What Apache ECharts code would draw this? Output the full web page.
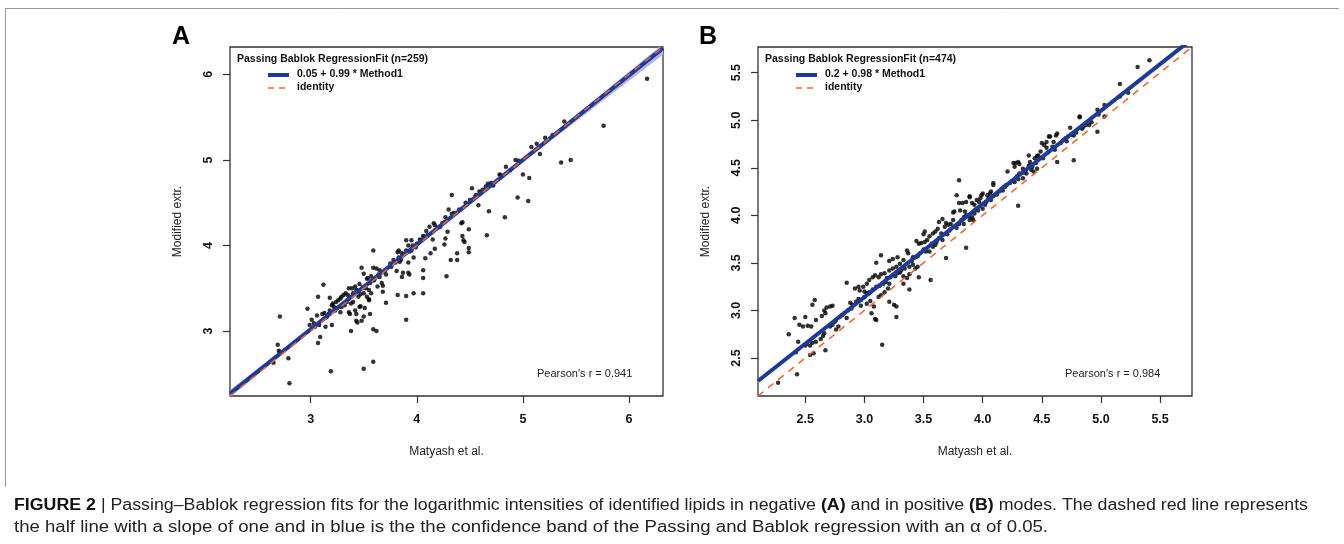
<!DOCTYPE html>
<html>
<head>
<meta charset="utf-8">
<title>Passing-Bablok regression</title>
<script src="https://cdn.jsdelivr.net/npm/echarts@6/dist/echarts.min.js"></script>
<style>
  html, body { margin: 0; padding: 0; background: #fff; }
  #chart { width: 1344px; height: 544px; }
</style>
</head>
<body>
<div id="chart"></div>
<script>
// panel A (negative mode)
var pointsA = [
  [6.17,5.95],[5.76,5.40],[5.39,5.45],[5.45,5.00],[5.36,4.97],[5.21,5.26],[5.28,5.29],
  [5.08,5.15],[5.13,5.19],[5.16,5.07],[5.00,4.83],[5.06,4.79],[4.95,4.56],[5.05,4.52],
  [4.83,4.33],[4.93,5.00],[4.96,4.99],[4.84,4.92],[4.78,4.83],[4.79,4.82],[4.72,4.70],
  [4.67,4.72],[4.65,4.69],[4.68,4.40],[4.66,4.12],[4.59,4.63],[4.60,4.61],[4.56,4.59],
  [4.52,4.67],[4.58,4.47],[4.50,4.53],[4.53,4.54],[4.49,4.19],[4.49,3.97],[4.49,3.92],
  [4.42,4.26],[4.43,4.27],[4.43,4.11],[4.44,4.06],[4.45,4.04],[4.38,3.91],[4.38,3.83],
  [4.32,3.83],[4.28,3.64],[4.33,4.59],[4.30,4.42],[4.33,4.37],[4.27,4.33],[4.26,4.27],
  [4.22,4.22],[4.27,4.08],[4.26,4.01],[4.29,4.16],[4.16,4.26],[4.17,4.24],[4.12,4.22],
  [4.09,4.17],[4.06,4.11],[4.07,4.10],[4.04,4.06],[4.15,4.07],[4.17,3.96],[4.13,3.91],
  [4.08,3.85],[4.06,3.71],[4.06,3.62],[4.06,3.44],[3.99,3.98],[3.96,4.00],[3.95,4.06],
  [3.95,3.94],[3.97,3.86],[3.90,4.06],[3.92,4.00],[3.90,3.94],[3.86,3.91],[3.85,3.83],
  [3.84,3.81],[3.92,3.80],[3.87,3.68],[3.86,3.63],[3.92,3.68],[3.93,3.66],[3.90,3.41],
  [3.97,3.44],[3.90,3.13],[3.82,3.42],[3.81,3.70],[3.83,3.86],[3.78,3.83],[3.83,3.94],
  [3.82,3.92],[3.75,3.79],[3.71,3.66],[3.71,3.33],[3.67,3.56],[3.68,3.53],[3.68,3.46],
  [3.65,3.63],[3.65,3.71],[3.62,3.73],[3.59,3.74],[3.59,3.94],[3.63,3.52],[3.59,3.59],
  [3.57,3.64],[3.54,3.62],[3.48,3.74],[3.50,3.67],[3.53,3.61],[3.46,3.55],[3.49,3.51],
  [3.45,3.47],[3.50,3.44],[3.53,3.40],[3.55,3.37],[3.51,3.27],[3.50,3.17],[3.56,3.20],
  [3.48,3.12],[3.43,3.12],[3.44,3.10],[3.59,3.02],[3.62,3.00],[3.38,3.00],[3.59,2.64],
  [3.50,2.56],[3.19,2.53],[2.80,2.39],[2.79,2.68],[2.70,2.77],[2.71,2.75],[2.69,2.84],
  [2.71,3.17],[2.65,2.63],[3.07,2.86],[3.09,2.93],[3.14,3.05],[3.20,3.07],[2.97,3.26],
  [3.07,3.40],[3.12,3.54],[3.18,3.39],[3.06,3.18],[3.01,3.13],[2.99,3.07],[3.03,3.09],
  [3.04,3.05],[3.08,3.07],[3.11,3.20],[3.13,3.21],[3.15,3.16],[3.18,3.24],[3.20,3.30],
  [3.21,3.32],[3.24,3.34],[3.26,3.36],[3.28,3.38],[3.29,3.40],[3.31,3.42],[3.33,3.44],
  [3.23,3.24],[3.28,3.22],[3.25,3.27],[3.36,3.50],[3.39,3.50],[3.42,3.52],[3.43,3.48],
  [3.36,3.38],[3.34,3.34],[3.38,3.32],[3.40,3.34],[3.36,3.22],[3.37,3.20],[3.42,3.24],
  [3.43,3.20],[3.46,3.28],[3.47,3.29],[3.29,3.28],[3.32,3.30],[3.55,3.48],[3.57,3.44],
  [3.55,3.36],[3.45,3.40],[3.47,3.43],[3.52,3.50],[3.56,3.56],[3.60,3.60],[3.64,3.66],
  [3.70,3.70],[3.76,3.75],[3.80,3.80],[3.88,3.90],[3.93,3.93],[4.00,4.02],[4.03,4.07],
  [4.10,4.12],[4.20,4.21],[4.24,4.26],[4.35,4.38],[4.40,4.42],[4.46,4.50],[4.55,4.57],
  [4.62,4.65],[4.70,4.73],[4.88,4.88],[3.17,3.20],[3.22,3.28],[3.35,3.42],[3.40,3.44]
];
var bandXA = [2.24, 3, 4, 5, 6.32];
var bandLoA = [2.225, 3.0, 3.995, 4.975, 6.23];
var bandHiA = [2.31, 3.04, 4.02, 5.02, 6.355];
var fitA = [0.05, 0.99]; // intercept, slope
var rangeA = [2.24, 6.32];
var ticksA = [3, 4, 5, 6];

// panel B (positive mode)
var pointsB = [
  [5.41,5.63],[5.31,5.56],[5.16,5.38],[5.16,5.25],[5.23,5.29],[5.03,5.16],[5.03,5.04],
  [4.97,5.11],[4.98,5.06],[4.97,4.88],[4.82,5.04],[4.82,5.03],[4.77,4.58],[4.92,4.98],
  [4.90,4.95],[4.85,4.93],[4.84,4.91],[4.74,4.92],[4.79,4.87],[4.77,4.84],[4.72,4.83],
  [4.70,4.81],[4.71,4.78],[4.68,4.79],[4.63,4.86],[4.62,4.84],[4.57,4.83],[4.56,4.83],
  [4.60,4.77],[4.59,4.72],[4.61,4.69],[4.52,4.74],[4.54,4.71],[4.54,4.77],[4.50,4.76],
  [4.63,4.56],[4.51,4.60],[4.49,4.67],[4.47,4.63],[4.46,4.62],[4.44,4.60],[4.39,4.63],
  [4.40,4.56],[4.39,4.52],[4.30,4.56],[4.28,4.55],[4.26,4.55],[4.31,4.54],[4.27,4.51],
  [4.34,4.49],[4.36,4.47],[4.42,4.51],[4.46,4.49],[4.41,4.48],[4.43,4.46],[4.37,4.44],
  [4.31,4.44],[4.29,4.41],[4.34,4.39],[4.30,4.38],[4.27,4.35],[4.21,4.46],[4.30,4.10],
  [4.23,4.34],[4.20,4.32],[4.19,4.30],[4.16,4.28],[4.17,4.26],[4.14,4.25],[4.09,4.32],
  [4.09,4.34],[4.07,4.25],[4.06,4.23],[4.04,4.21],[4.09,4.20],[4.07,4.16],[4.00,4.23],
  [3.99,4.21],[3.98,4.18],[3.97,4.14],[4.03,4.14],[4.02,4.11],[4.00,4.07],[3.95,4.16],
  [3.93,4.11],[3.91,4.13],[3.89,4.19],[3.89,4.20],[3.80,4.37],[3.78,4.21],[3.80,4.13],
  [3.83,4.13],[3.86,4.14],[3.76,4.04],[3.75,4.03],[3.81,4.05],[3.85,4.04],[3.96,4.05],
  [3.93,4.02],[3.91,3.98],[3.89,3.95],[3.92,3.95],[3.86,4.00],[3.84,3.98],[3.82,3.95],
  [3.80,3.91],[3.84,3.91],[3.75,3.95],[3.73,3.91],[3.71,3.90],[3.69,3.92],[3.63,3.93],
  [3.66,3.96],[3.68,3.88],[3.86,3.66],[3.69,3.55],[3.56,3.32],[3.62,3.86],[3.60,3.83],
  [3.58,3.81],[3.55,3.78],[3.51,3.83],[3.50,3.80],[3.65,3.81],[3.63,3.76],[3.61,3.72],
  [3.60,3.69],[3.58,3.67],[3.53,3.74],[3.51,3.72],[3.48,3.71],[3.46,3.70],[3.44,3.73],
  [3.50,3.64],[3.52,3.62],[3.47,3.60],[3.45,3.57],[3.43,3.56],[3.41,3.56],[3.36,3.63],
  [3.37,3.60],[3.46,3.35],[3.38,3.22],[3.33,3.28],[3.27,2.93],[3.15,2.64],[3.09,2.91],
  [3.10,2.90],[3.06,2.97],[3.14,3.58],[3.10,3.50],[3.21,3.52],[3.24,3.54],[3.28,3.56],
  [3.33,3.53],[3.30,3.49],[3.27,3.46],[3.24,3.44],[3.21,3.42],[3.34,3.44],[3.31,3.42],
  [3.28,3.39],[3.26,3.36],[3.22,3.35],[3.19,3.34],[3.17,3.39],[3.14,3.38],[3.12,3.35],
  [3.09,3.37],[3.07,3.35],[3.16,3.28],[3.13,3.26],[3.10,3.25],[3.07,3.22],[3.04,3.19],
  [3.02,3.18],[3.21,3.28],[3.20,3.23],[3.17,3.19],[3.14,3.16],[3.12,3.14],[3.04,3.32],
  [3.02,3.28],[2.99,3.25],[2.96,3.21],[2.95,3.25],[2.92,3.23],[3.00,3.14],[2.97,3.11],
  [2.93,3.09],[2.90,3.06],[2.97,3.05],[3.02,3.07],[2.85,3.29],[2.89,3.02],[2.86,3.00],
  [2.83,2.97],[2.81,2.95],[2.85,2.92],[2.79,2.93],[2.76,2.90],[2.75,2.88],[2.73,2.85],
  [2.71,2.83],[2.78,2.83],[2.76,2.80],[2.73,3.05],[2.71,3.04],[2.68,3.03],[2.66,3.00],
  [2.67,2.97],[2.64,2.94],[2.58,3.11],[2.56,3.06],[2.66,2.76],[2.65,2.73],[2.63,2.70],
  [2.59,2.67],[2.56,2.66],[2.54,2.63],[2.67,2.58],[2.57,2.55],[2.54,2.53],[2.44,2.67],
  [2.50,2.63],[2.51,2.65],[2.42,2.56],[2.43,2.33],[2.27,2.24],[2.36,2.75],[2.41,2.92],
  [2.50,2.93],[2.45,2.85],[2.48,2.83],[2.52,2.84],[2.55,2.83],[2.59,2.90],[3.05,3.10],
  [3.08,3.04],[3.21,3.09],[3.25,3.06],[3.27,3.04],[3.33,3.36],[3.36,3.34],[3.38,3.38],
  [3.38,3.46],[3.41,3.48],[3.43,3.44],[3.45,3.46],[3.55,3.62],[3.57,3.70],[3.66,3.74],
  [3.70,3.80],[3.72,3.84],[3.78,3.87],[3.88,3.99],[3.94,4.06],[4.05,4.18],[4.12,4.22],
  [4.18,4.30],[4.25,4.36],[4.35,4.45],[4.45,4.55],[4.55,4.66],[4.66,4.76],[4.75,4.85],
  [4.87,4.95],[3.00,3.20],[2.95,3.12],[2.88,3.08],[3.18,3.30],[3.30,3.40],[3.40,3.52]
];
var bandXB = [2.1, 3, 4, 5, 5.77];
var bandLoB = [2.235, 3.128, 4.112, 5.085, 5.83];
var bandHiB = [2.28, 3.152, 4.128, 5.115, 5.88];
var fitB = [0.2, 0.98];
var rangeB = [2.1, 5.77];
var ticksB = [2.5, 3.0, 3.5, 4.0, 4.5, 5.0, 5.5];

var blue = '#1b3a9c';
var orange = '#f3632c';
var band = '#aeb4f4';
var font = 'Liberation Sans, Arial, sans-serif';

function lineEnds(fit, range) {
  return range.map(function (x) { return [x, fit[0] + fit[1] * x]; });
}

function bandSeries(idx, bx, lo, hi) {
  return {
    type: 'custom',
    xAxisIndex: idx,
    yAxisIndex: idx,
    clip: true,
    z: 1,
    data: [0],
    renderItem: function (params, api) {
      var pts = [];
      for (var i = 0; i < bx.length; i++) pts.push(api.coord([bx[i], hi[i]]));
      for (var j = bx.length - 1; j >= 0; j--) pts.push(api.coord([bx[j], lo[j]]));
      var cs = params.coordSys;
      return {
        type: 'polygon',
        shape: { points: pts },
        style: { fill: band, stroke: null },
        clipPath: { type: 'rect', shape: { x: cs.x, y: cs.y, width: cs.width, height: cs.height } }
      };
    }
  };
}

function xAxisOf(idx, range, ticks, dec) {
  return {
    type: 'value', gridIndex: idx, min: range[0], max: range[1],
    name: 'Matyash et al.', nameLocation: 'middle', nameGap: 50,
    nameTextStyle: { fontFamily: font, fontSize: 12, color: '#222' },
    axisLine: { show: false },
    axisTick: { show: true, inside: false, length: 7, customValues: ticks,
      lineStyle: { color: '#333', width: 1.2 } },
    axisLabel: { customValues: ticks, margin: 17, fontFamily: font, fontWeight: 'bold',
      fontSize: 12.5, color: '#111',
      formatter: function (v) { return v.toFixed(dec); } },
    splitLine: { show: false }
  };
}

function yAxisOf(idx, range, ticks, dec) {
  return {
    type: 'value', gridIndex: idx, min: range[0], max: range[1],
    name: 'Modified extr.', nameLocation: 'middle', nameGap: 46,
    nameTextStyle: { fontFamily: font, fontSize: 12, color: '#222' },
    axisLine: { show: false },
    axisTick: { show: true, inside: false, length: 7, customValues: ticks,
      lineStyle: { color: '#333', width: 1.2 } },
    axisLabel: { customValues: ticks, rotate: 90, margin: 15, fontFamily: font,
      fontWeight: 'bold', fontSize: 12.5, color: '#111',
      formatter: function (v) { return v.toFixed(dec); } },
    splitLine: { show: false }
  };
}

function seriesFor(idx, pts, fit, range, bx, lo, hi) {
  return [
    bandSeries(idx, bx, lo, hi),
    {
      type: 'scatter', xAxisIndex: idx, yAxisIndex: idx, z: 2,
      symbol: 'circle', symbolSize: 4.5, itemStyle: { color: '#000' },
      data: pts
    },
    {
      type: 'line', xAxisIndex: idx, yAxisIndex: idx, z: 3,
      showSymbol: false, symbol: 'none',
      lineStyle: { color: blue, width: 4 },
      data: lineEnds(fit, range)
    },
    {
      type: 'line', xAxisIndex: idx, yAxisIndex: idx, z: 4,
      showSymbol: false, symbol: 'none',
      lineStyle: { color: orange, width: 1.5, type: [7, 6] },
      data: lineEnds([0, 1], range)
    }
  ];
}

function legendBits(x0, title, eq, pearson, pearsonX) {
  return [
    { type: 'text', left: x0, top: 54,
      style: { text: title, font: 'bold 10.5px ' + font, fill: '#111' } },
    { type: 'line', shape: { x1: x0 + 31, y1: 75, x2: x0 + 52, y2: 75 },
      style: { stroke: blue, lineWidth: 4 } },
    { type: 'text', left: x0 + 60, top: 69,
      style: { text: eq, font: 'bold 10.5px ' + font, fill: '#111' } },
    { type: 'line', shape: { x1: x0 + 31, y1: 88, x2: x0 + 52, y2: 88 },
      style: { stroke: orange, lineWidth: 1.5, lineDash: [6, 5] } },
    { type: 'text', left: x0 + 60, top: 82,
      style: { text: 'identity', font: 'bold 10.5px ' + font, fill: '#111' } },
    { type: 'text', left: pearsonX, top: 368,
      style: { text: pearson, font: '11px ' + font, fill: '#222' } }
  ];
}

// caption: measured so that each line spans the same width as in the figure
var capNorm = '16px Liberation Sans, Arial, sans-serif';
var capBold = 'bold 16px Liberation Sans, Arial, sans-serif';
var capParts = [
  ['FIGURE 2', 1], [' | Passing–Bablok regression fits for the logarithmic intensities of identified lipids in negative ', 0],
  ['(A)', 1], [' and in positive ', 0], ['(B)', 1], [' modes. The dashed red line represents', 0]
];
var capLine2 = 'the half line with a slope of one and in blue is the the confidence band of the Passing and Bablok regression with an α of 0.05.';
var cv = document.createElement('canvas').getContext('2d');
var capW = 0;
capParts.forEach(function (p) { cv.font = p[1] ? capBold : capNorm; capW += cv.measureText(p[0]).width; });
cv.font = capNorm;
var capW2 = cv.measureText(capLine2).width;
var capScale = 1294 / capW;
var capScale2 = 1034 / capW2;
var capText1 = capParts.map(function (p) { return p[1] ? '{b|' + p[0] + '}' : p[0]; }).join('');

var chart = echarts.init(document.getElementById('chart'));
var option = {
  backgroundColor: '#fff',
  animation: false,
  grid: [
    { left: 230, top: 47, width: 433, height: 349, show: true, borderColor: '#333',
      borderWidth: 1.3, backgroundColor: 'transparent' },
    { left: 758, top: 47, width: 434, height: 349, show: true, borderColor: '#333',
      borderWidth: 1.3, backgroundColor: 'transparent' }
  ],
  xAxis: [xAxisOf(0, rangeA, ticksA, 0), xAxisOf(1, rangeB, ticksB, 1)],
  yAxis: [yAxisOf(0, rangeA, ticksA, 0), yAxisOf(1, rangeB, ticksB, 1)],
  series: seriesFor(0, pointsA, fitA, rangeA, bandXA, bandLoA, bandHiA)
    .concat(seriesFor(1, pointsB, fitB, rangeB, bandXB, bandLoB, bandHiB)),
  graphic: [
    // figure frame
    { type: 'line', shape: { x1: 5, y1: 8.5, x2: 1339, y2: 8.5 }, style: { stroke: '#999', lineWidth: 1 } },
    { type: 'line', shape: { x1: 5.5, y1: 8, x2: 5.5, y2: 487 }, style: { stroke: '#999', lineWidth: 1 } },
    { type: 'text', left: 172, top: 25, style: { text: 'A', font: 'bold 25px ' + font, fill: '#000' } },
    { type: 'text', left: 699, top: 25, style: { text: 'B', font: 'bold 25px ' + font, fill: '#000' } }
  ].concat(
    legendBits(237, 'Passing Bablok RegressionFit (n=259)', '0.05 + 0.99 * Method1', "Pearson's r = 0.941", 537),
    legendBits(765, 'Passing Bablok RegressionFit (n=474)', '0.2 + 0.98 * Method1', "Pearson's r = 0.984", 1065),
    [
      { type: 'text', x: 14, y: 506, scaleX: capScale, originX: 0,
        style: {
          text: capText1, font: capNorm, fill: '#222', verticalAlign: 'middle',
          rich: { b: { font: capBold, fill: '#111', verticalAlign: 'middle' } }
        } },
      { type: 'text', x: 14, y: 528, scaleX: capScale2, originX: 0,
        style: { text: capLine2, font: capNorm, fill: '#222', verticalAlign: 'middle' } }
    ]
  )
};
chart.setOption(option);
</script>
</body>
</html>
